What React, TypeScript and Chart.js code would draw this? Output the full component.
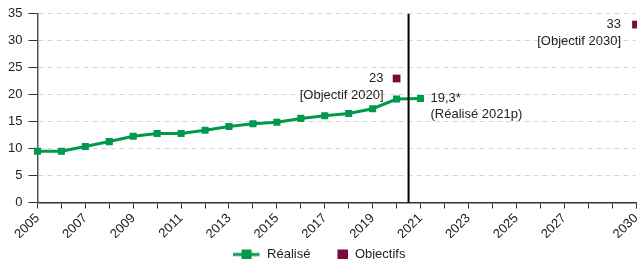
import React, { useEffect, useRef } from 'react';
import { Chart, registerables } from 'chart.js';

Chart.register(...registerables);

const years = [
  '2005', '2006', '2007', '2008', '2009', '2010', '2011', '2012', '2013',
  '2014', '2015', '2016', '2017', '2018', '2019', '2020', '2021', '2022',
  '2023', '2024', '2025', '2026', '2027', '2028', '2029', '2030',
];
const realise = [9.5, 9.5, 10.4, 11.3, 12.3, 12.8, 12.8, 13.4, 14.1, 14.6, 14.9, 15.6, 16.1, 16.5, 17.4, 19.2, 19.3];
const objectifYears = ['2020', '2030'];
const objectifValues = [23, 33];
const labeledYears = ['2005', '2007', '2009', '2011', '2013', '2015', '2017', '2019', '2021', '2023', '2025', '2027', '2030'];
const dividerBetween = ['2020', '2021'];
const yMin = 0;
const yMax = 35;
const yStep = 5;
const noteObj2020 = ['23', '[Objectif 2020]'];
const noteReal2021 = ['19,3*', '(Réalisé 2021p)'];
const noteObj2030 = ['33', '[Objectif 2030]'];

const GREEN = '#00984A';
const MAROON = '#7D0A3C';
const FONT = '"Liberation Sans", Arial, sans-serif';
const TEXT = '#222222';

function makeLineIcon() {
  const c = document.createElement('canvas');
  c.width = 28; c.height = 12;
  const ctx = c.getContext('2d')!;
  ctx.strokeStyle = GREEN; ctx.lineWidth = 3;
  ctx.beginPath(); ctx.moveTo(0, 6); ctx.lineTo(27, 6); ctx.stroke();
  ctx.fillStyle = GREEN; ctx.fillRect(9, 1, 10, 10);
  return c;
}
function makeSquareIcon() {
  const c = document.createElement('canvas');
  c.width = 28; c.height = 12;
  const ctx = c.getContext('2d')!;
  ctx.fillStyle = MAROON; ctx.fillRect(17, 1, 11, 11);
  return c;
}

const annotationPlugin = {
  id: 'notes',
  afterDatasetsDraw(chart: any) {
    const { ctx, chartArea, scales } = chart;
    const x = scales.x; const y = scales.y;
    const i0 = years.indexOf(dividerBetween[0]);
    const i1 = years.indexOf(dividerBetween[1]);
    const dx = (x.getPixelForValue(i0) + x.getPixelForValue(i1)) / 2;
    ctx.save();
    ctx.strokeStyle = '#000'; ctx.lineWidth = 2;
    ctx.beginPath(); ctx.moveTo(dx, chartArea.top); ctx.lineTo(dx, chartArea.bottom); ctx.stroke();
    ctx.font = `13px ${FONT}`;
    ctx.fillStyle = TEXT;
    ctx.textBaseline = 'middle';
    const drawNote = (lines: string[], px: number, py: number, align: 'left' | 'right', offX: number, gap: number) => {
      ctx.textAlign = align;
      lines.forEach((t, k) => ctx.fillText(t, px + offX, py + k * gap));
    };
    const p20 = { x: x.getPixelForValue(years.indexOf(objectifYears[0])), y: y.getPixelForValue(objectifValues[0]) };
    drawNote(noteObj2020, p20.x, p20.y, 'right', -13, 16.5);
    const iLast = realise.length - 1;
    const p21 = { x: x.getPixelForValue(iLast), y: y.getPixelForValue(realise[iLast]) };
    drawNote(noteReal2021, p21.x, p21.y, 'left', 10, 15.5);
    const p30 = { x: x.getPixelForValue(years.indexOf(objectifYears[1])), y: y.getPixelForValue(objectifValues[1]) };
    drawNote(noteObj2030, p30.x, p30.y, 'right', -15, 17);
    ctx.restore();
  },
};

export default function App() {
  const ref = useRef<HTMLCanvasElement>(null);
  useEffect(() => {
    if (!ref.current) return;
    const lineIcon = makeLineIcon();
    const squareIcon = makeSquareIcon();
    const chart = new Chart(ref.current, {
      type: 'line',
      data: {
        labels: years,
        datasets: [
          {
            label: 'Réalisé',
            data: realise,
            borderColor: GREEN,
            backgroundColor: GREEN,
            borderWidth: 3,
            pointStyle: 'rect',
            pointRadius: 5,
            pointBorderWidth: 0,
            tension: 0,
          },
          {
            label: 'Objectifs',
            data: objectifYears.map((yr, i) => ({ x: yr, y: objectifValues[i] })),
            borderColor: MAROON,
            backgroundColor: MAROON,
            showLine: false,
            pointStyle: 'rect',
            pointRadius: 5.5,
            pointBorderWidth: 0,
            clip: false as any,
          },
        ],
      },
      options: {
        animation: false,
        responsive: false,
        maintainAspectRatio: false,
        layout: { autoPadding: false, padding: { top: 7, right: 1, left: 2, bottom: -12 } },
        plugins: {
          tooltip: { enabled: false },
          legend: {
            position: 'bottom',
            labels: {
              usePointStyle: true,
              pointStyleWidth: 28,
              boxHeight: 12,
              padding: 10,
              color: TEXT,
              font: { family: FONT, size: 13 },
              generateLabels: () => [
                { text: 'Réalisé', pointStyle: lineIcon as any, fillStyle: GREEN, strokeStyle: GREEN, lineWidth: 0, hidden: false, datasetIndex: 0, fontColor: TEXT },
                { text: 'Objectifs', pointStyle: squareIcon as any, fillStyle: MAROON, strokeStyle: MAROON, lineWidth: 0, hidden: false, datasetIndex: 1, fontColor: TEXT },
              ],
            },
          },
        },
        scales: {
          x: {
            type: 'category',
            offset: false,
            grid: {
              display: true,
              drawOnChartArea: false,
              drawTicks: true,
              tickLength: 6,
              tickColor: '#333',
            },
            border: { display: true, color: '#333', width: 1.5 },
            ticks: {
              autoSkip: false,
              minRotation: 45,
              maxRotation: 45,
              padding: 2,
              color: TEXT,
              font: { family: FONT, size: 13 },
              callback: (v: any) => (labeledYears.includes(years[v]) ? years[v] : ''),
            },
            afterFit: (scale: any) => { scale.paddingRight = 0; scale.height = scale.height - 6; },
          },
          y: {
            min: yMin,
            max: yMax,
            grid: {
              color: '#d4d4d4',
              lineWidth: 1,
              tickColor: '#333',
              tickLength: 9,
              drawTicks: true,
              tickBorderDash: [0, 0],
            },
            border: { display: true, color: '#555', width: 1.5, dash: [5, 4] as any },
            ticks: {
              stepSize: yStep,
              padding: 6,
              color: TEXT,
              font: { family: FONT, size: 13 },
            },
          },
        },
      },
      plugins: [annotationPlugin],
    });
    return () => chart.destroy();
  }, []);
  return (
    <div style={{ position: 'fixed', left: 0, top: 0, width: 637, height: 259, background: '#fff' }}>
      <canvas ref={ref} width={637} height={259} style={{ display: 'block' }} />
    </div>
  );
}
